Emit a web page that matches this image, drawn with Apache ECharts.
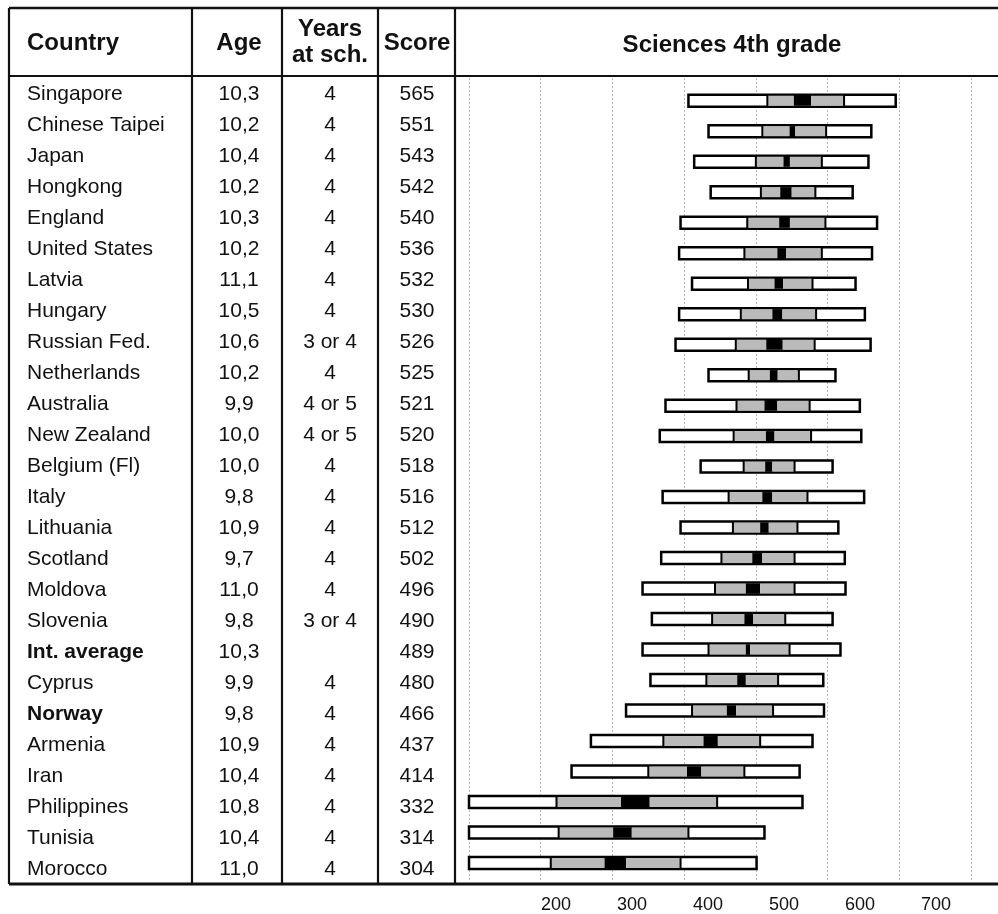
<!DOCTYPE html>
<html>
<head>
<meta charset="utf-8">
<script src="https://cdn.jsdelivr.net/npm/echarts@6/dist/echarts.min.js"></script>
<style>
  html, body { margin: 0; padding: 0; background: #fff; }
  #chart { width: 998px; height: 914px; }
</style>
</head>
<body>
<div id="chart"></div>
<script>
// ---- Table columns ----
const countries = ['Singapore', 'Chinese Taipei', 'Japan', 'Hongkong', 'England', 'United States',
  'Latvia', 'Hungary', 'Russian Fed.', 'Netherlands', 'Australia', 'New Zealand', 'Belgium (Fl)',
  'Italy', 'Lithuania', 'Scotland', 'Moldova', 'Slovenia', 'Int. average', 'Cyprus', 'Norway',
  'Armenia', 'Iran', 'Philippines', 'Tunisia', 'Morocco'];
const ages = ['10,3', '10,2', '10,4', '10,2', '10,3', '10,2', '11,1', '10,5', '10,6', '10,2', '9,9',
  '10,0', '10,0', '9,8', '10,9', '9,7', '11,0', '9,8', '10,3', '9,9', '9,8', '10,9', '10,4', '10,8',
  '10,4', '11,0'];
const yearsAtSchool = ['4', '4', '4', '4', '4', '4', '4', '4', '3 or 4', '4', '4 or 5', '4 or 5', '4',
  '4', '4', '4', '4', '3 or 4', '', '4', '4', '4', '4', '4', '4', '4'];
const scores = [565, 551, 543, 542, 540, 536, 532, 530, 526, 525, 521, 520, 518, 516, 512, 502, 496,
  490, 489, 480, 466, 437, 414, 332, 314, 304];
const boldRows = ['Int. average', 'Norway'];

// ---- Score distributions: percentiles and half-width of the confidence band around the mean ----
const p5 = [406, 434, 414, 437, 395, 393, 411, 393, 388, 434, 374, 366, 423, 370, 395, 368, 342, 355,
  342, 353, 319, 270, 243, 100, 100, 100];
const p25 = [516, 509, 500, 507, 488, 484, 489, 479, 472, 490, 473, 469, 483, 462, 468, 452, 443, 439,
  434, 431, 411, 371, 350, 222, 225, 214];
const p75 = [623, 598, 592, 583, 597, 592, 579, 584, 582, 560, 575, 577, 554, 572, 558, 554, 554, 541,
  547, 531, 524, 506, 484, 446, 406, 395];
const p95 = [695, 661, 657, 635, 669, 662, 639, 652, 660, 611, 645, 647, 607, 651, 615, 624, 625, 607,
  618, 594, 595, 579, 561, 565, 512, 501];
const ciHalf = [12, 4, 4.5, 8, 7.5, 6, 6, 7, 11.5, 5.5, 9, 6, 5, 7, 6, 7, 10, 6, 3, 6, 6.5, 10, 10,
  20, 13, 15];

// ---- Axis labels ----
const axisTicks = [200, 300, 400, 500, 600, 700];

// ---- Layout ----
const FONT = '"Liberation Sans", Arial, Helvetica, sans-serif';
const colCountryX = 27, colAgeX = 239, colYearsX = 330, colScoreX = 417;
const frameLeft = 9, frameTop = 8, headerLine = 76, frameBottom = 884;
const colLines = [192, 282, 378, 455];

const chart = echarts.init(document.getElementById('chart'), null, { renderer: 'canvas' });

const tableData = countries.map((c, i) => [0, i]);
const barData = countries.map((c, i) => [
  p5[i], i, p25[i], scores[i] - ciHalf[i], scores[i] + ciHalf[i], p75[i], p95[i]
]);

function renderRow(params, api) {
  const i = params.dataIndex;
  const bold = boldRows.indexOf(countries[i]) >= 0;
  const y = api.coord([0, i])[1];
  const fx = (v) => api.coord([v, i])[0];
  const mk = (text, x, align, isBold) => ({
    type: 'text',
    x: x, y: y,
    style: {
      text: text,
      fill: '#111',
      font: (isBold ? 'bold ' : '') + '21px ' + FONT,
      align: align,
      verticalAlign: 'middle'
    }
  });
  return {
    type: 'group',
    children: [
      mk(countries[i], fx(colCountryX), 'left', bold),
      mk(ages[i], fx(colAgeX), 'center', false),
      mk(yearsAtSchool[i], fx(colYearsX), 'center', false),
      mk(String(scores[i]), fx(colScoreX), 'center', false)
    ]
  };
}

function renderBar(params, api) {
  const i = api.value(1);
  const yc = api.coord([100, i])[1];
  const x = (k) => api.coord([api.value(k), i])[0];
  const x5 = x(0), x25 = x(2), xlo = x(3), xhi = x(4), x75 = x(5), x95 = x(6);
  const h = 12;
  const inner = 10;
  return {
    type: 'group',
    children: [
      { type: 'rect', shape: { x: x5, y: yc - h / 2, width: x95 - x5, height: h },
        style: { fill: '#fff', stroke: '#000', lineWidth: 2.5 } },
      { type: 'rect', shape: { x: x25, y: yc - inner / 2, width: xlo - x25, height: inner },
        style: { fill: '#bababa' } },
      { type: 'rect', shape: { x: xlo, y: yc - inner / 2, width: xhi - xlo, height: inner },
        style: { fill: '#000' } },
      { type: 'rect', shape: { x: xhi, y: yc - inner / 2, width: x75 - xhi, height: inner },
        style: { fill: '#bababa' } },
      { type: 'line', shape: { x1: x25, y1: yc - h / 2, x2: x25, y2: yc + h / 2 },
        style: { stroke: '#000', lineWidth: 2 } },
      { type: 'line', shape: { x1: x75, y1: yc - h / 2, x2: x75, y2: yc + h / 2 },
        style: { stroke: '#000', lineWidth: 2 } }
    ]
  };
}

function frameLine(x1, y1, x2, y2, w) {
  return { type: 'line', z: 100, shape: { x1, y1, x2, y2 }, style: { stroke: '#111', lineWidth: w } };
}
function headerText(text, x, y, align) {
  return { type: 'text', z: 100, x: x, y: y,
    style: { text: text, fill: '#111', font: 'bold 24px ' + FONT, align: align, verticalAlign: 'middle' } };
}

const graphics = [
  frameLine(frameLeft, frameTop, 998, frameTop, 2.5),
  frameLine(frameLeft, headerLine, 998, headerLine, 2.2),
  frameLine(frameLeft, frameBottom, 998, frameBottom, 2.8),
  frameLine(frameLeft, frameTop, frameLeft, frameBottom, 2.2),
  headerText('Country', colCountryX, 43, 'left'),
  headerText('Age', colAgeX, 43, 'center'),
  headerText('Years', colYearsX, 29, 'center'),
  headerText('at sch.', colYearsX, 55, 'center'),
  headerText('Score', colScoreX, 43, 'center'),
  { type: 'text', z: 100, x: 732, y: 45,
    style: { text: 'Sciences 4th grade', fill: '#111', font: 'bold 24px ' + FONT,
      align: 'center', verticalAlign: 'middle' } }
];
colLines.forEach(cx => graphics.push(frameLine(cx, frameTop, cx, frameBottom, 2.2)));

const option = {
  backgroundColor: '#fff',
  animation: false,
  grid: [
    // table text
    { left: 0, right: 0, top: 78, bottom: 32 },
    // distribution bars
    { left: 469, right: 27, top: 78, bottom: 32 },
    // score scale labels below the frame
    { left: 556, right: 62, top: 884, height: 2 }
  ],
  xAxis: [
    { gridIndex: 0, type: 'value', min: 0, max: 998, show: false },
    { gridIndex: 1, type: 'value', min: 100, max: 800, interval: 100,
      axisLine: { show: false }, axisTick: { show: false }, axisLabel: { show: false },
      splitLine: { show: true, lineStyle: { type: [2, 2], color: '#b8b8b8', width: 1 } } },
    { gridIndex: 2, type: 'value', min: axisTicks[0], max: axisTicks[axisTicks.length - 1], interval: 100,
      axisLine: { show: false }, axisTick: { show: false }, splitLine: { show: false },
      axisLabel: { show: true, margin: 12, color: '#111', fontSize: 18, fontFamily: FONT,
        showMinLabel: true, showMaxLabel: true } }
  ],
  yAxis: [
    { gridIndex: 0, type: 'value', inverse: true, min: -0.532, max: 25.40, show: false },
    { gridIndex: 1, type: 'value', inverse: true, min: -0.745, max: 25.623, show: false },
    { gridIndex: 2, type: 'value', min: 0, max: 1, show: false }
  ],
  graphic: graphics,
  series: [
    { type: 'custom', xAxisIndex: 0, yAxisIndex: 0, data: tableData,
      encode: { x: 0, y: 1 }, renderItem: renderRow, silent: true },
    { type: 'custom', xAxisIndex: 1, yAxisIndex: 1, data: barData,
      encode: { x: [0, 6], y: 1 }, renderItem: renderBar, clip: false, silent: true }
  ]
};

chart.setOption(option);
</script>
</body>
</html>
